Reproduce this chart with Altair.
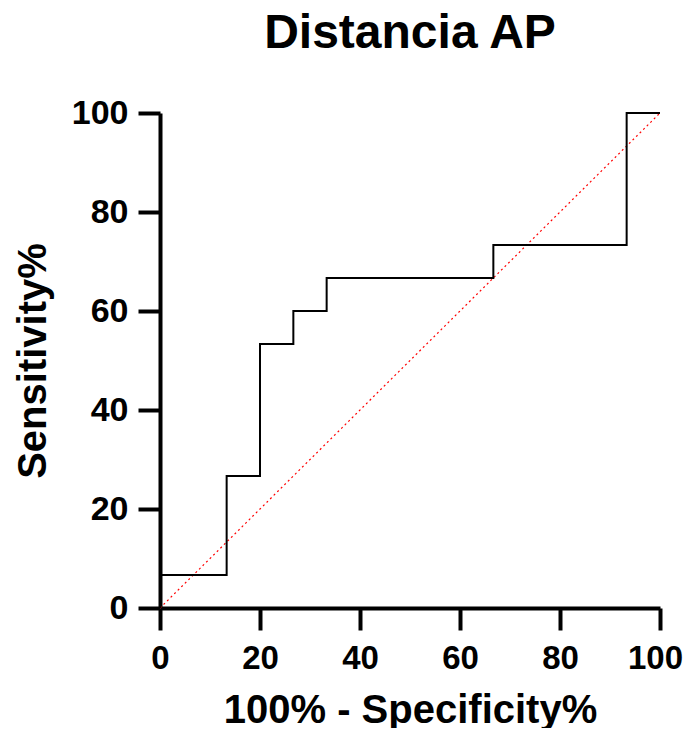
import altair as alt
import pandas as pd

# ROC curve points (100% - Specificity%, Sensitivity%)
fpr = [0, 0, 13.33, 20, 26.67, 33.33, 66.67, 93.33, 100]
tpr = [0, 6.67, 26.67, 53.33, 60, 66.67, 73.33, 100, 100]

diag_x = [0, 100]
diag_y = [0, 100]

ticks = [0, 20, 40, 60, 80, 100]

roc = pd.DataFrame({"fpr": fpr, "tpr": tpr})
diag = pd.DataFrame({"fpr": diag_x, "tpr": diag_y})

FONT = "Liberation Sans"

x_scale = alt.Scale(domain=[0, 100], nice=False, zero=False)
y_scale = alt.Scale(domain=[0, 100], nice=False, zero=False)

x_axis = alt.Axis(
    values=ticks, title="100% - Specificity%", grid=False,
    domainColor="black", domainWidth=4, tickColor="black", tickWidth=4, tickSize=22,
    labelFont=FONT, labelFontSize=33, labelFontWeight="bold", labelColor="black",
    labelPadding=12, labelFlush=False,
    labelOffset={"condition": {"test": "datum.value == 100", "value": -5}, "value": 0},
    titleFont=FONT, titleFontSize=40, titleFontWeight="bold", titleColor="black",
    titleY=114, titleBaseline="alphabetic", titleAlign="center",
)
y_axis = alt.Axis(
    values=ticks, title="Sensitivity%", grid=False,
    domainColor="black", domainWidth=4, tickColor="black", tickWidth=4, tickSize=22,
    labelFont=FONT, labelFontSize=34, labelFontWeight="bold", labelColor="black",
    labelPadding=10, labelFlush=False,
    titleFont=FONT, titleFontSize=40, titleFontWeight="bold", titleColor="black",
    titleX=-115, titleY=247.5, titleBaseline="alphabetic", titleAlign="center", titleAngle=-90,
)

diag_line = alt.Chart(diag).mark_line(color="red", strokeWidth=1.2, strokeDash=[2, 3]).encode(
    x=alt.X("fpr:Q", scale=x_scale, axis=x_axis),
    y=alt.Y("tpr:Q", scale=y_scale, axis=y_axis),
)

roc_line = alt.Chart(roc).mark_line(color="black", strokeWidth=2, interpolate="step-after").encode(
    x=alt.X("fpr:Q", scale=x_scale),
    y=alt.Y("tpr:Q", scale=y_scale),
)

chart = alt.layer(diag_line, roc_line).properties(
    width=500, height=495,
    background="white",
    autosize=alt.AutoSizeParams(type="none"),
    padding={"left": 152, "top": 105, "right": 26, "bottom": 120},
    title=alt.TitleParams(
        "Distancia AP", font=FONT, fontSize=48, fontWeight="bold", color="black",
        anchor="middle", offset=38,
    ),
).configure_view(strokeWidth=0)

chart.save("out.html", embed_options={"renderer": "svg", "actions": False})
